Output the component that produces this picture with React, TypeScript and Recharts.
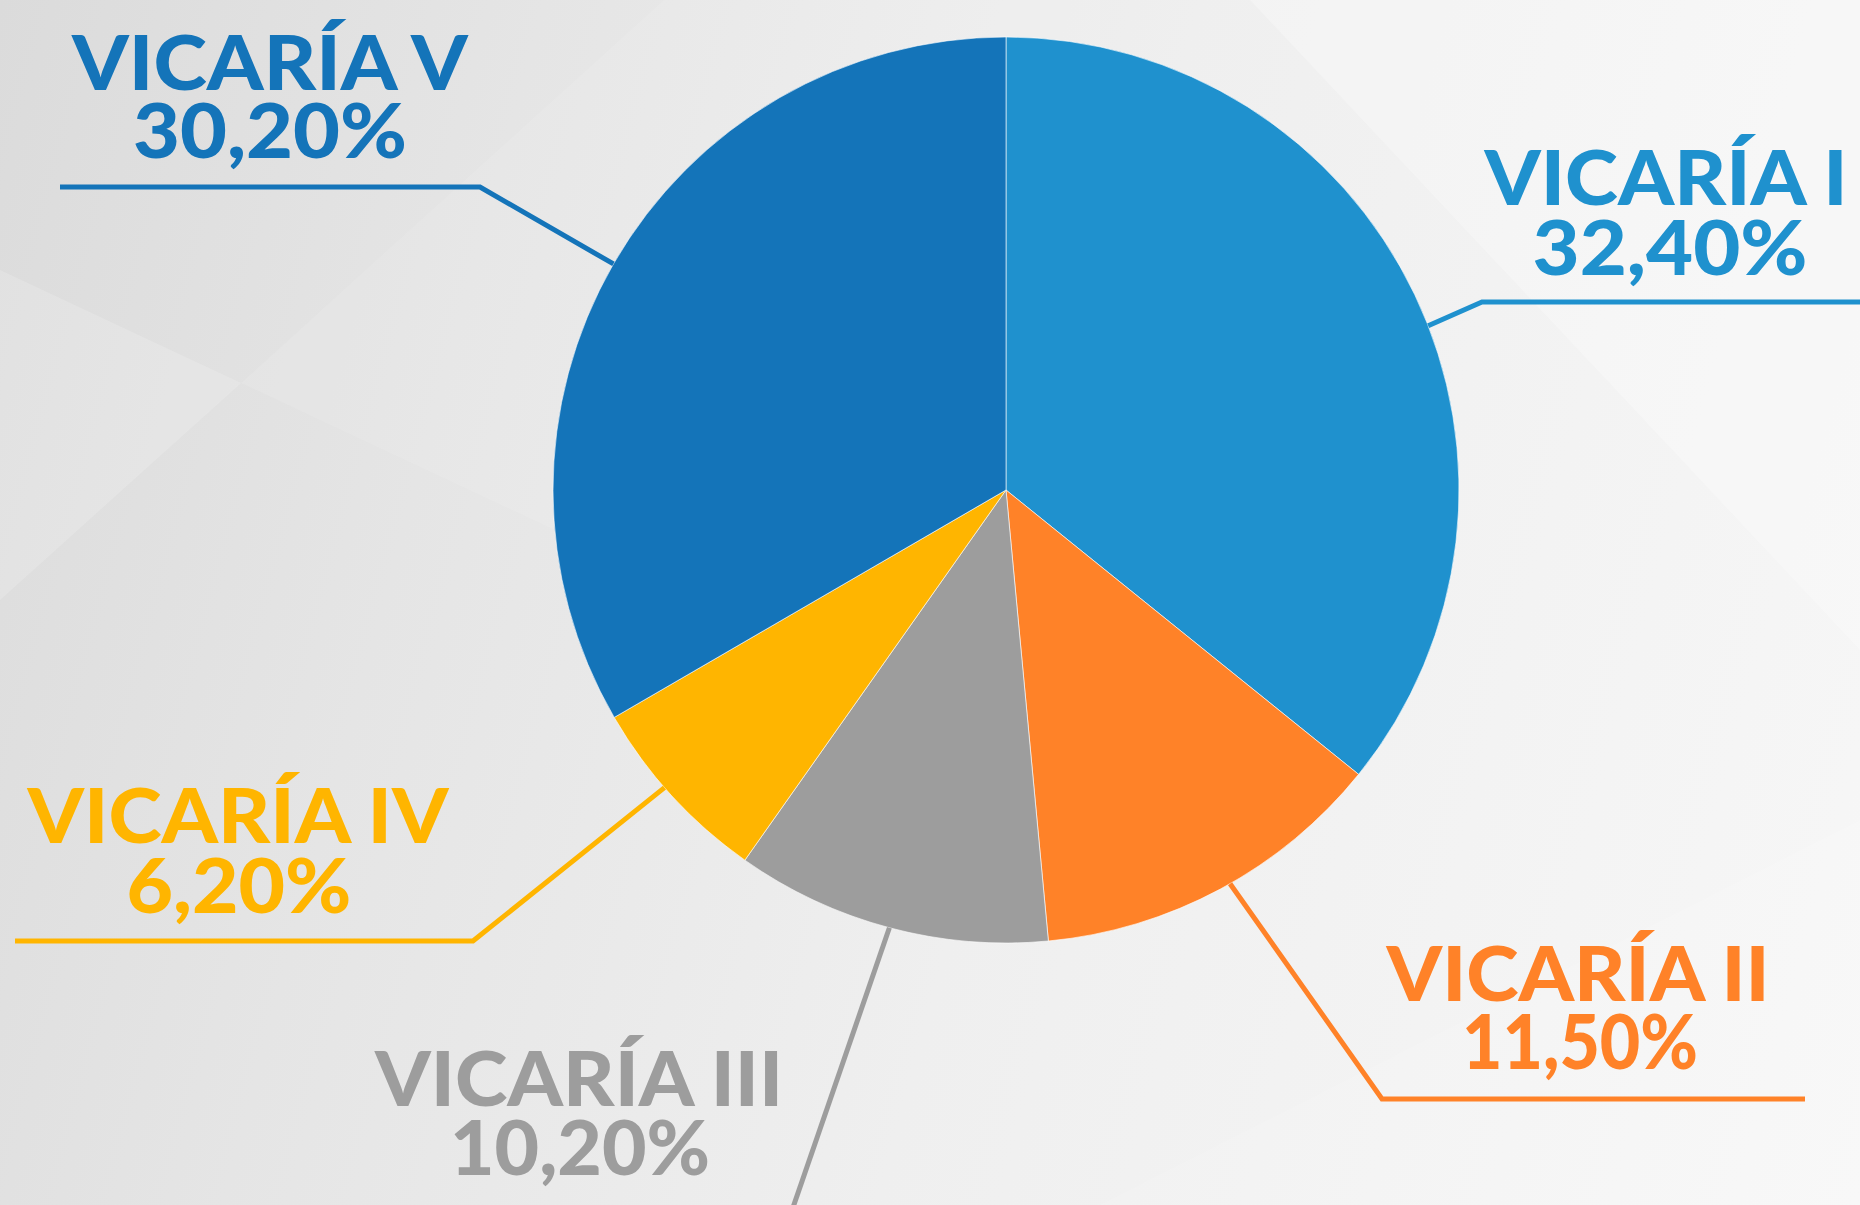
import React from 'react';
import { PieChart, Pie, Cell } from 'recharts';

const categories = ['VICARÍA I', 'VICARÍA II', 'VICARÍA III', 'VICARÍA IV', 'VICARÍA V'];
const shares = [32.4, 11.5, 10.2, 6.2, 30.2];
const colors = ['#1f91ce', '#ff8228', '#9d9d9d', '#ffb500', '#1474b9'];

const data = categories.map((name, i) => ({ name, value: shares[i] }));

// label layout (positions only)
const layout = [
  { shift: -4.3, elbow: [1482, 302], end: [1866, 302], tx: 1666, y1: 205, w1: 363, tx2: 1670, y2: 275, w2: 275 },
  { shift: 1.4, elbow: [1382, 1099], end: [1805, 1099], tx: 1578, y1: 1001, w1: 383, tx2: 1580, y2: 1069, w2: 236 },
  { shift: 0, elbow: null, end: [788, 1222], tx: 579, y1: 1106, w1: 408, tx2: 580, y2: 1175, w2: 260 },
  { shift: -1.4, elbow: [473, 941], end: [15, 941], tx: 238, y1: 843, w1: 421, tx2: 239, y2: 913, w2: 225 },
  { shift: 0, elbow: [480, 187], end: [60, 187], tx: 270, y1: 90, w1: 396, tx2: 270, y2: 158, w2: 274 },
];

const RAD = Math.PI / 180;
const FONT = 'Lato, "Open Sans", sans-serif';

const renderLabel = (props: any) => {
  const { cx, cy, midAngle, outerRadius, index, value } = props;
  const L = layout[index];
  const a = (midAngle + L.shift) * RAD;
  const sx = cx + outerRadius * Math.cos(-a);
  const sy = cy + outerRadius * Math.sin(-a);
  const pts = [[sx, sy]];
  if (L.elbow) pts.push(L.elbow);
  pts.push(L.end);
  const color = colors[index];
  const pct = value.toFixed(2).replace('.', ',') + '%';
  return (
    <g key={'lbl' + index}>
      <polyline
        points={pts.map((p) => p.join(',')).join(' ')}
        fill="none"
        stroke={color}
        strokeWidth={5}
      />
      <text
        x={L.tx}
        y={L.y1}
        textAnchor="middle"
        fill={color}
        fontFamily={FONT}
        fontWeight={900}
        fontSize={77}
        textLength={L.w1}
        lengthAdjust="spacingAndGlyphs"
      >
        {categories[index]}
      </text>
      <text
        x={L.tx2}
        y={L.y2}
        textAnchor="middle"
        fill={color}
        fontFamily={FONT}
        fontWeight={900}
        fontSize={77}
        textLength={L.w2}
        lengthAdjust="spacingAndGlyphs"
      >
        {pct}
      </text>
    </g>
  );
};

export default function App() {
  return (
    <div
      style={{
        position: 'fixed',
        left: 0,
        top: 0,
        width: 1860,
        height: 1205,
        overflow: 'hidden',
        background: 'linear-gradient(105deg, #dbdbdb 0%, #e5e5e5 25%, #efefef 55%, #f7f7f7 100%)',
      }}
    >
      <svg width={1860} height={1205} style={{ position: 'absolute', left: 0, top: 0 }}>
        <polygon points="0,270 241,383 0,600" fill="#ffffff" opacity={0.16} />
        <polygon points="241,383 664,0 1100,0 1100,785" fill="#ffffff" opacity={0.1} />
        <polygon points="1250,0 1860,0 1860,650" fill="#ffffff" opacity={0.25} />
        <polygon points="1100,1205 1860,820 1860,1205" fill="#ffffff" opacity={0.12} />
      </svg>
      <div style={{ position: 'absolute', left: 0, top: 0 }}>
        <PieChart width={1860} height={1205} margin={{ top: 0, right: 0, bottom: 0, left: 0 }}>
          <Pie
            data={data}
            dataKey="value"
            nameKey="name"
            cx={1006}
            cy={490}
            outerRadius={453}
            startAngle={90}
            endAngle={-270}
            stroke="#ffffff"
            strokeWidth={0.6}
            label={renderLabel}
            labelLine={false}
            isAnimationActive={false}
          >
            {data.map((d, i) => (
              <Cell key={d.name} fill={colors[i]} />
            ))}
          </Pie>
        </PieChart>
      </div>
    </div>
  );
}
